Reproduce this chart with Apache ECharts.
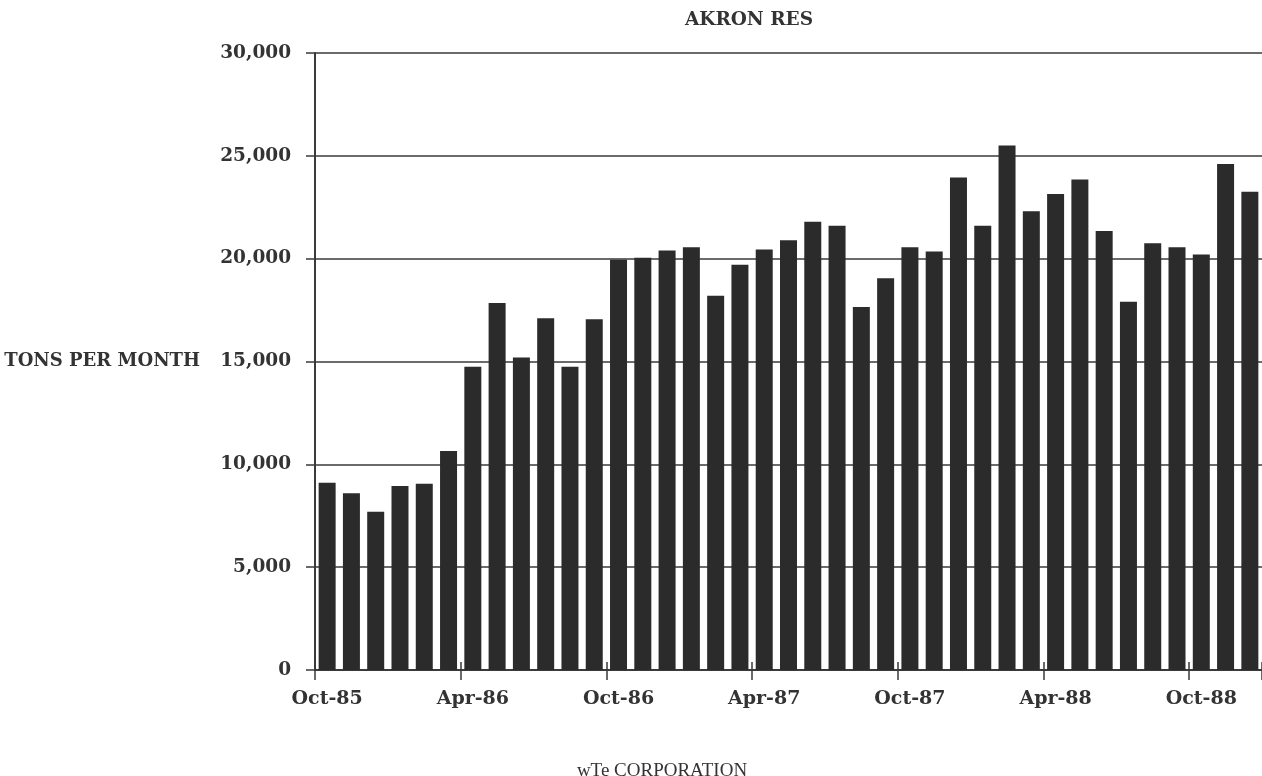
<!DOCTYPE html>
<html>
<head>
<meta charset="utf-8">
<script src="https://cdn.jsdelivr.net/npm/echarts@6/dist/echarts.min.js"></script>
<style>
  html, body { margin: 0; padding: 0; background: #ffffff; }
  #chart { width: 1262px; height: 776px; }
</style>
</head>
<body>
<div id="chart"></div>
<script>
const months = [
  'Oct-85','Nov-85','Dec-85','Jan-86','Feb-86','Mar-86','Apr-86','May-86','Jun-86','Jul-86','Aug-86','Sep-86',
  'Oct-86','Nov-86','Dec-86','Jan-87','Feb-87','Mar-87','Apr-87','May-87','Jun-87','Jul-87','Aug-87','Sep-87',
  'Oct-87','Nov-87','Dec-87','Jan-88','Feb-88','Mar-88','Apr-88','May-88','Jun-88','Jul-88','Aug-88','Sep-88',
  'Oct-88','Nov-88','Dec-88'
];
const tonsPerMonth = [
  9100, 8600, 7700, 8950, 9050, 10650, 14750, 17850, 15200, 17100, 14750, 17050,
  19950, 20050, 20400, 20550, 18200, 19700, 20450, 20900, 21800, 21600, 17650, 19050,
  20550, 20350, 23950, 21600, 25500, 22300, 23150, 23850, 21350, 17900, 20750, 20550,
  20200, 24600, 23250
];
const titleText = 'AKRON RES';
const yAxisTitle = 'TONS PER MONTH';
const footerText = 'wTe CORPORATION';

const FONT = '"DejaVu Serif", "Liberation Serif", serif';
const INK = '#333333';
const LINE = '#3a3a3a';

const chart = echarts.init(document.getElementById('chart'));
chart.setOption({
  backgroundColor: '#ffffff',
  animation: false,
  title: [
    {
      text: titleText,
      left: 744, top: 6, textAlign: 'center',
      textStyle: { fontFamily: FONT, fontWeight: 'bold', fontSize: 18.5, color: INK }
    },
    {
      text: footerText,
      left: 657, top: 757, textAlign: 'center',
      textStyle: { fontFamily: '"Liberation Serif", "DejaVu Serif", serif', fontWeight: 'normal', fontSize: 19, color: INK }
    }
  ],
  grid: { left: 315, right: -3, top: 53, bottom: 106, containLabel: false },
  xAxis: [
    {
      type: 'category',
      data: months,
      boundaryGap: true,
      axisLine: { show: true, lineStyle: { color: LINE, width: 2 } },
      axisTick: { show: true, interval: 5, length: 10, inside: false, alignWithLabel: false, lineStyle: { color: LINE, width: 1.5 } },
      axisLabel: { interval: 5, margin: 20, fontFamily: FONT, fontWeight: 'bold', fontSize: 19, color: INK }
    },
    {
      type: 'category',
      data: months,
      position: 'bottom',
      boundaryGap: true,
      axisLine: { show: false },
      axisTick: { show: true, interval: 5, length: 8, inside: true, alignWithLabel: false, lineStyle: { color: LINE, width: 1.5 } },
      axisLabel: { show: false }
    }
  ],
  yAxis: {
    type: 'value',
    min: 0, max: 30000, interval: 5000,
    name: yAxisTitle,
    nameLocation: 'middle',
    nameRotate: 0,
    nameGap: 115,
    nameTextStyle: { fontFamily: FONT, fontWeight: 'bold', fontSize: 18, color: INK, align: 'right', verticalAlign: 'middle' },
    axisLine: { show: true, lineStyle: { color: LINE, width: 2 } },
    axisTick: { show: true, length: 9, inside: false, lineStyle: { color: LINE, width: 1.5 } },
    axisLabel: {
      margin: 24, fontFamily: FONT, fontWeight: 'bold', fontSize: 18.5, color: INK,
      formatter: v => v.toLocaleString('en-US')
    },
    splitLine: { show: true, lineStyle: { color: LINE, width: 1.5 } }
  },
  series: [
    {
      type: 'bar',
      data: tonsPerMonth,
      xAxisIndex: 0,
      barCategoryGap: '30%',
      itemStyle: { color: '#2b2b2b' }
    }
  ]
});
</script>
</body>
</html>
